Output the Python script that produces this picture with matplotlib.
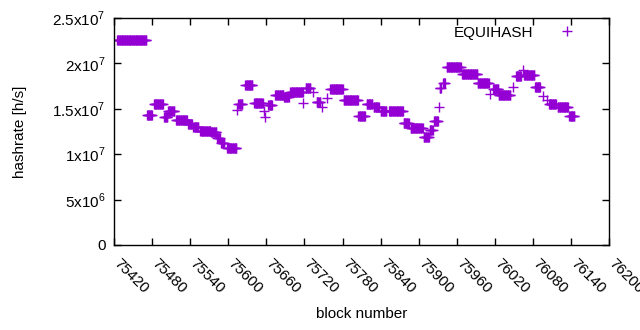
import numpy as np
import matplotlib
matplotlib.use('Agg')
import matplotlib.pyplot as plt
import matplotlib.transforms as mtrans

# runs of blocks with the same hashrate: first block, last block, hashrate [h/s]
run_start = [75425, 75472, 75483, 75499, 75505, 75518, 75537, 75545, 75556, 75573,
             75583, 75589, 75598, 75614, 75616, 75627, 75641, 75656, 75658, 75663,
             75674, 75688, 75698, 75718, 75722, 75733, 75739, 75748, 75756, 75761,
             75782, 75805, 75818, 75829, 75840, 75853, 75876, 75887, 75908, 75917,
             75924, 75932, 75933, 75938, 75944, 75968, 75993, 76012, 76017, 76026,
             76048, 76053, 76064, 76066, 76083, 76096, 76102, 76105, 76119, 76137]
run_end = [75471, 75480, 75497, 75504, 75515, 75535, 75543, 75553, 75572, 75581,
           75587, 75594, 75613, 75614, 75622, 75638, 75654, 75656, 75658, 75669,
           75687, 75695, 75717, 75718, 75729, 75733, 75745, 75748, 75756, 75780,
           75804, 75815, 75827, 75837, 75849, 75875, 75884, 75906, 75916, 75922,
           75930, 75932, 75935, 75941, 75966, 75992, 76010, 76012, 76025, 76044,
           76048, 76061, 76064, 76082, 76091, 76096, 76102, 76116, 76135, 76145]
run_rate = [2.26e7, 1.43e7, 1.55e7, 1.41e7, 1.48e7, 1.38e7, 1.33e7, 1.30e7, 1.26e7, 1.25e7,
            1.18e7, 1.12e7, 1.07e7, 1.49e7, 1.55e7, 1.76e7, 1.56e7, 1.48e7, 1.41e7, 1.54e7,
            1.65e7, 1.63e7, 1.69e7, 1.56e7, 1.73e7, 1.69e7, 1.575e7, 1.52e7, 1.62e7, 1.72e7,
            1.60e7, 1.42e7, 1.55e7, 1.52e7, 1.48e7, 1.48e7, 1.34e7, 1.29e7, 1.19e7, 1.27e7,
            1.37e7, 1.52e7, 1.73e7, 1.78e7, 1.96e7, 1.88e7, 1.78e7, 1.66e7, 1.72e7, 1.65e7,
            1.74e7, 1.86e7, 1.93e7, 1.87e7, 1.74e7, 1.64e7, 1.60e7, 1.55e7, 1.52e7, 1.42e7]

x_ticks = list(range(75420, 76201, 60))
y_ticks = [0, 5e6, 1e7, 1.5e7, 2e7, 2.5e7]
y_labels = ['0', r'5x10$^{6}$', r'1x10$^{7}$', r'1.5x10$^{7}$', r'2x10$^{7}$', r'2.5x10$^{7}$']

blocks = []
rates = []
for s, e, r in zip(run_start, run_end, run_rate):
    for b in range(s, e + 1):
        blocks.append(b)
        rates.append(r)

plt.rcParams['font.family'] = ['Liberation Sans', 'DejaVu Sans']
plt.rcParams['mathtext.fontset'] = 'custom'
plt.rcParams['mathtext.rm'] = 'Liberation Sans'
plt.rcParams['font.size'] = 11

fig = plt.figure(figsize=(6.4, 3.3), dpi=100)
ax = fig.add_axes([0.178, 0.258, 0.774, 0.687])

ax.plot(blocks, rates, linestyle='none', marker='+', color='#9400d3',
        markersize=6.8, markeredgewidth=1.0, label='EQUIHASH')

ax.set_xlim(75420, 76200)
ax.set_ylim(0, 2.5e7)
ax.set_xticks(x_ticks)
ax.set_xticklabels([str(t) for t in x_ticks], rotation=-45, ha='left', va='top',
                   rotation_mode='anchor')
ax.set_yticks(y_ticks)
ax.set_yticklabels(y_labels)
ax.tick_params(direction='in', length=5, width=1, top=True, right=True, pad=6)
ax.tick_params(axis='x', pad=8)
# nudge the rotated x labels to the right like gnuplot does
shift = mtrans.ScaledTranslation(7 / 100, 0, fig.dpi_scale_trans)
for lab in ax.get_xticklabels():
    lab.set_transform(lab.get_transform() + shift)
for sp in ax.spines.values():
    sp.set_linewidth(1)

ax.set_xlabel('block number', labelpad=8)
ax.set_ylabel('hashrate [h/s]', labelpad=18)

ax.legend(loc='upper right', frameon=False, markerfirst=False, handlelength=1.5,
          handletextpad=1.5, borderaxespad=0.1, bbox_to_anchor=(0.954, 1.0))

fig.savefig('out.png', dpi=100)
